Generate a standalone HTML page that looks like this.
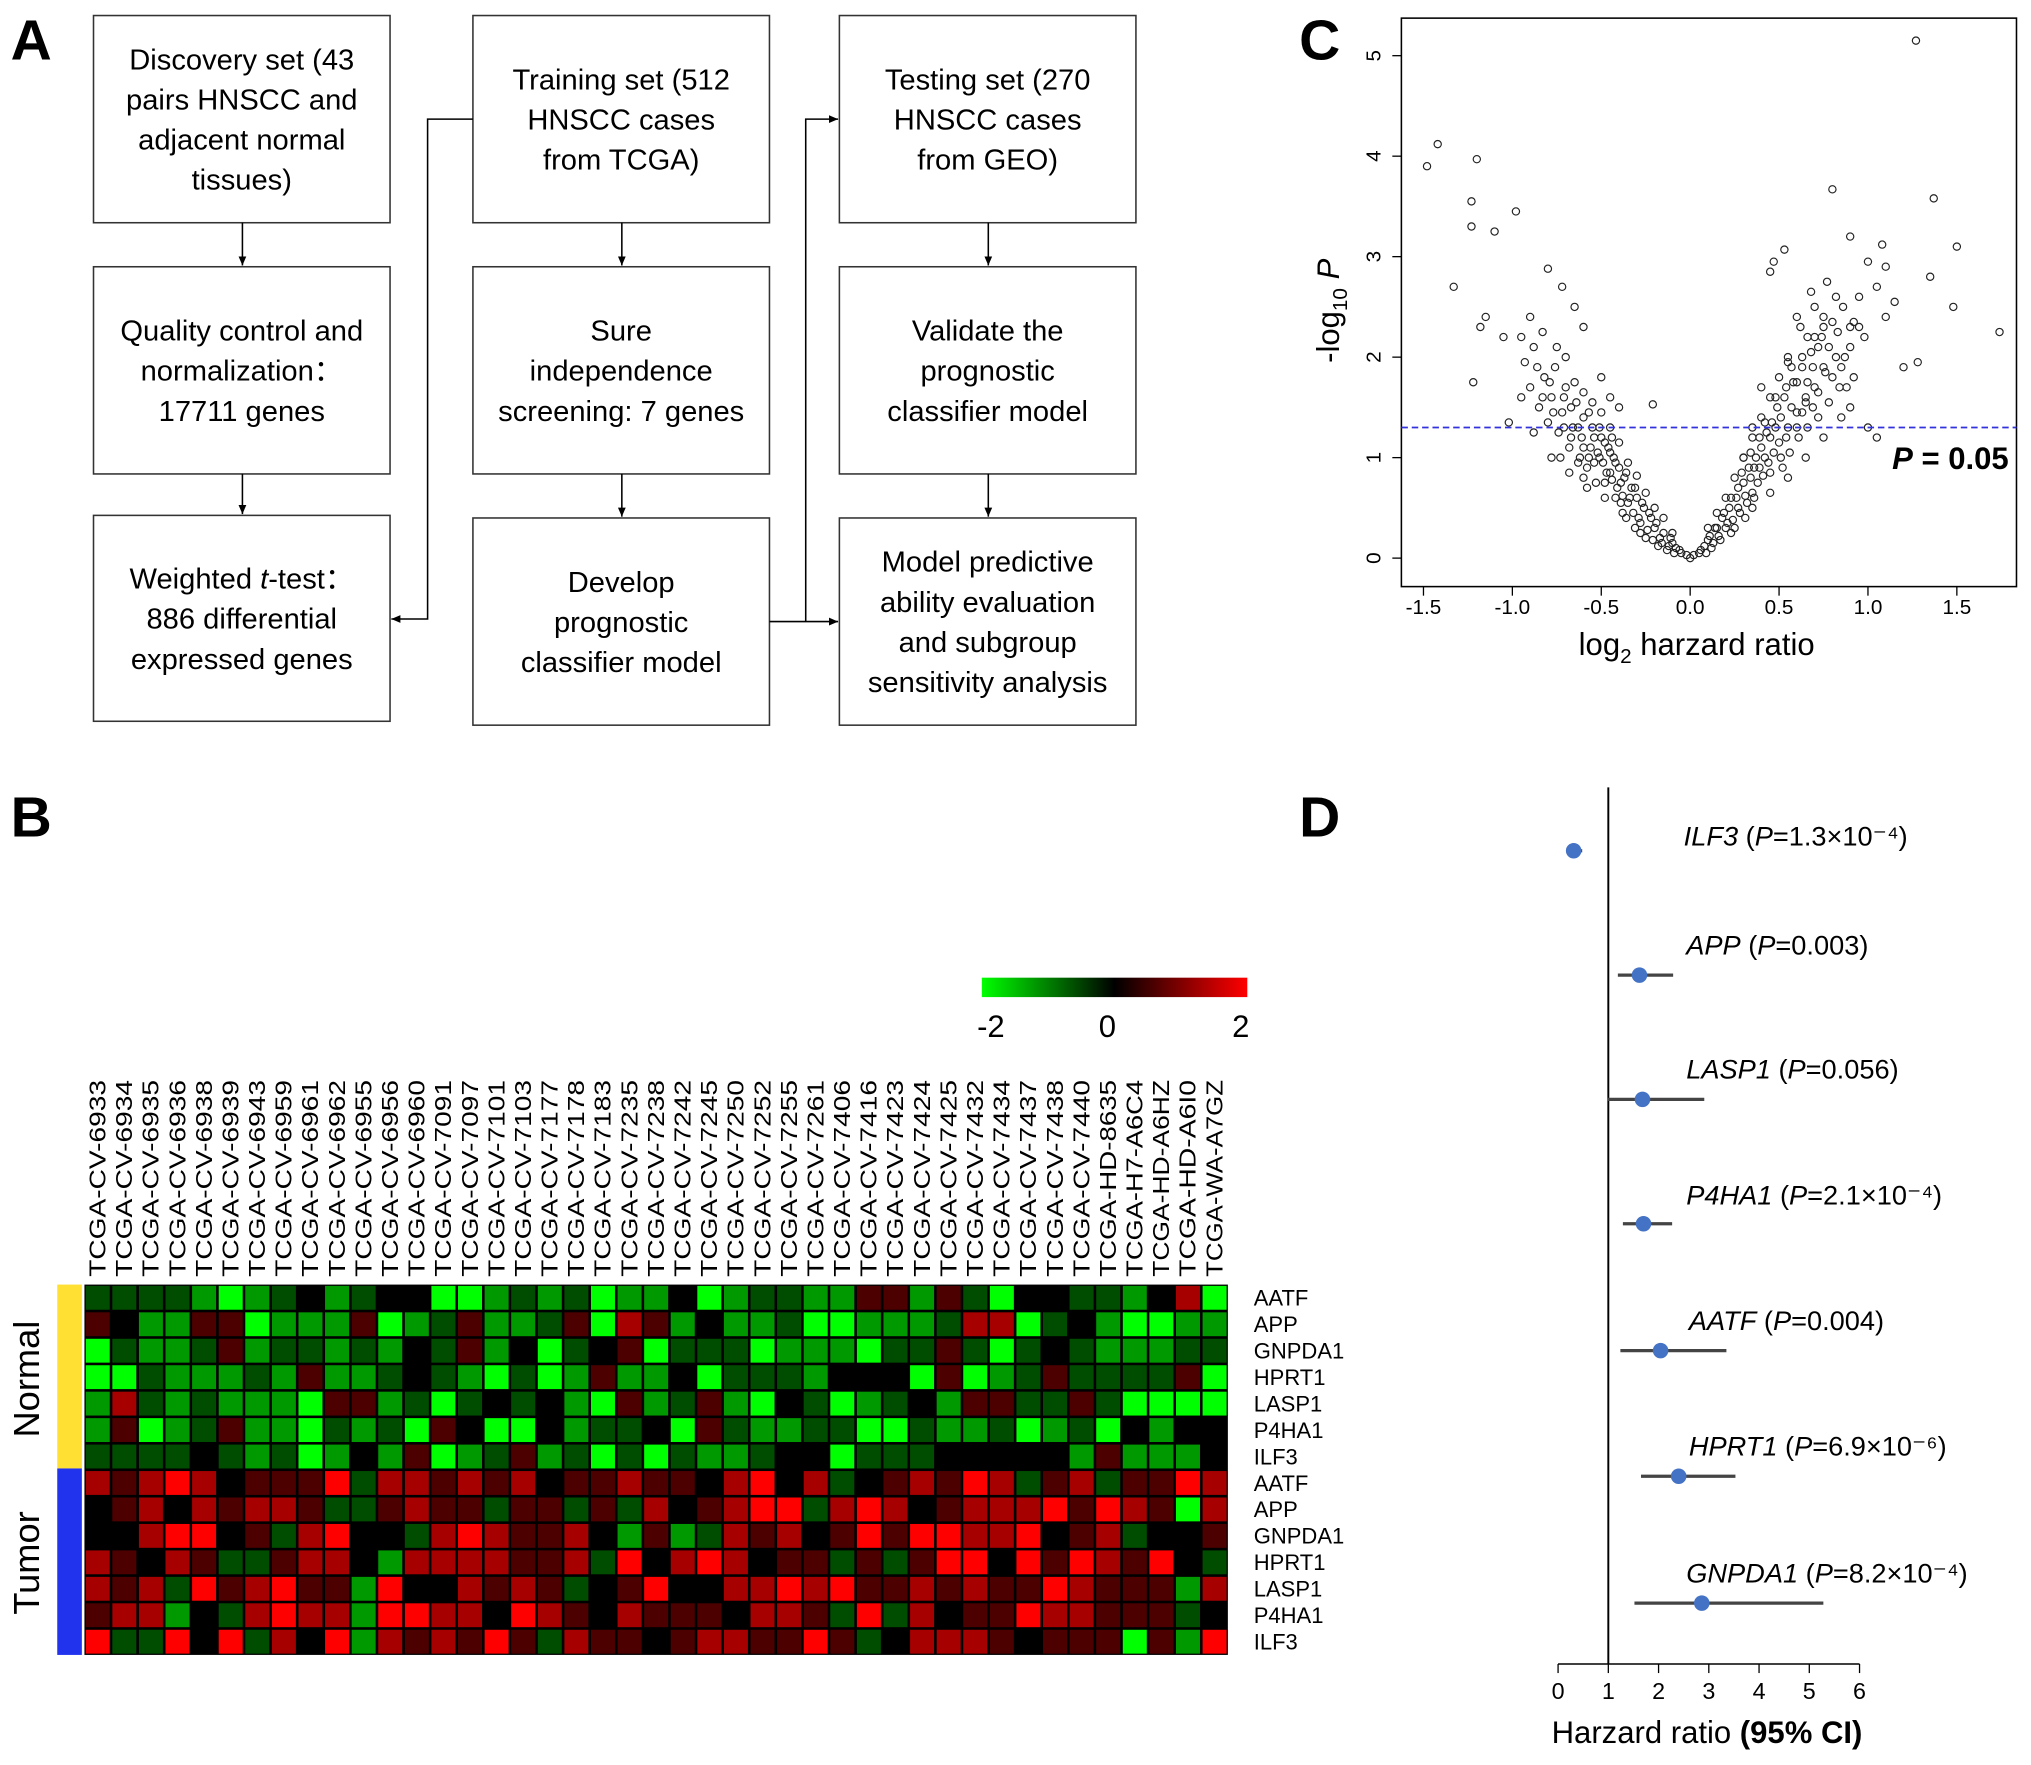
<!DOCTYPE html>
<html><head><meta charset="utf-8"><style>
html,body{margin:0;padding:0;background:#fff;}
svg{display:block;font-family:"Liberation Sans",Arial,sans-serif;}
</style></head><body>
<svg id="fig" width="2031" height="1765" viewBox="0 0 1568 1363" xmlns="http://www.w3.org/2000/svg">
<defs>
<marker id="ah" markerWidth="8" markerHeight="8" refX="7" refY="4" orient="auto" markerUnits="userSpaceOnUse"><path d="M0,1 L7,4 L0,7 z" fill="#000"/></marker>
<linearGradient id="cbar" x1="0" x2="1" y1="0" y2="0"><stop offset="0" stop-color="#00ff00"/><stop offset="0.5" stop-color="#000"/><stop offset="1" stop-color="#ff0000"/></linearGradient>
</defs>
<g font-weight="bold" font-size="44">
<text x="8" y="46">A</text>
<text x="8" y="646">B</text>
<text x="1003" y="46">C</text>
<text x="1003" y="646">D</text>
</g>
<g id="flow" font-size="22.5" text-anchor="middle" fill="#000"></g>
<g id="volcano"></g>
<g id="heat"></g>
<g id="forest"></g>
</svg>
<script>
// ---------- Volcano data ----------
const volcanoX = [1.27,-1.42,-1.48,-1.2,-1.23,-1.23,-1.1,-0.98,-1.33,-0.8,-0.72,-0.65,-1.22,-1.15,-1.18,-1.05,-0.9,-0.83,-0.7,-0.6,-0.5,-0.45,-0.4,-0.21,-1.02,-0.95,
0.8,1.37,1.5,1.74,1.48,1.35,1.08,1.1,1.0,0.9,0.53,0.47,0.45,0.68,1.2,1.28,0.6,0.95,0.75,0.55,0.7,0.85,0.88,0.9,1.0,1.05,0.65,0.4,0.35,0.3,
-0.05,-0.08,-0.1,-0.12,-0.15,-0.17,-0.2,-0.22,-0.24,-0.26,-0.28,-0.3,-0.32,-0.33,-0.35,-0.37,-0.38,-0.4,-0.41,-0.43,-0.44,-0.46,-0.47,-0.49,-0.5,-0.52,-0.53,-0.55,-0.56,-0.58,-0.6,-0.61,-0.62,-0.64,-0.66,-0.68,-0.7,-0.72,-0.74,-0.76,-0.78,-0.8,-0.82,-0.85,-0.88,-0.9,-0.93,-0.95,-0.55,-0.45,-0.35,-0.25,-0.15,-0.65,-0.75,-0.4,-0.3,-0.2,-0.1,-0.58,-0.48,-0.38,-0.28,-0.18,-0.68,-0.78,-0.88,
0.05,0.08,0.1,0.12,0.14,0.16,0.18,0.2,0.22,0.24,0.26,0.28,0.3,0.32,0.33,0.35,0.37,0.38,0.4,0.41,0.43,0.44,0.46,0.47,0.49,0.5,0.52,0.53,0.55,0.56,0.58,0.6,0.61,0.63,0.65,0.66,0.68,0.7,0.72,0.74,0.76,0.78,0.8,0.82,0.84,0.86,0.9,0.92,0.95,0.98,0.62,0.55,0.45,0.35,0.25,0.15,0.7,0.5,0.4,0.3,0.2,0.1,0.55,0.45,0.35,0.25,0.65,0.75,0.85,1.1,1.05,0.77,0.82,0.92,1.15,0.0,0.02,-0.02];
const volcanoY = [5.15,4.12,3.9,3.97,3.55,3.3,3.25,3.45,2.7,2.88,2.7,2.5,1.75,2.4,2.3,2.2,2.4,2.25,2.0,2.3,1.8,1.6,1.5,1.53,1.35,1.6,
3.67,3.58,3.1,2.25,2.5,2.8,3.12,2.9,2.95,3.2,3.07,2.95,2.85,2.65,1.9,1.95,2.4,2.3,2.4,2.0,2.2,1.9,1.7,1.5,1.3,1.2,1.6,1.7,1.3,1.0,
0.05,0.1,0.15,0.12,0.25,0.2,0.3,0.4,0.28,0.5,0.35,0.6,0.45,0.7,0.55,0.8,0.62,0.9,0.7,1.0,0.78,1.1,0.85,0.95,1.2,1.05,0.75,1.3,1.1,0.9,1.4,1.2,1.0,1.55,1.3,1.1,1.7,1.45,1.25,1.9,1.6,1.35,1.8,1.5,2.1,1.7,1.95,2.2,1.55,1.3,0.95,0.65,0.4,1.75,2.1,1.15,0.82,0.5,0.25,0.7,0.6,0.45,0.25,0.12,0.85,1.0,1.25,
0.05,0.12,0.18,0.1,0.3,0.22,0.4,0.3,0.5,0.38,0.6,0.45,0.75,0.55,0.9,0.65,1.0,0.75,1.1,0.82,1.25,0.95,1.35,1.05,1.5,1.15,0.9,1.6,1.3,1.05,1.75,1.45,1.2,1.9,1.55,1.3,2.05,1.7,1.4,2.2,1.85,1.55,2.35,2.0,1.7,2.5,2.1,1.8,2.6,2.2,2.3,1.95,1.6,1.2,0.8,0.45,2.5,1.8,1.4,1.0,0.6,0.3,0.8,0.65,0.5,0.3,1.0,1.2,1.4,2.4,2.7,2.75,2.6,2.35,2.55,0.0,0.03,0.03];
const volcanoXExtra = [-0.06,-0.09,-0.11,-0.13,-0.16,-0.19,-0.21,-0.23,-0.25,-0.27,-0.29,-0.31,-0.31,-0.34,-0.36,-0.36,-0.39,-0.39,-0.42,-0.42,-0.45,-0.45,-0.48,-0.48,-0.51,-0.51,-0.54,-0.54,-0.57,-0.57,-0.6,-0.6,-0.63,-0.63,-0.67,-0.67,-0.71,-0.71,-0.73,-0.77,-0.79,-0.83,-0.86,-0.6,-0.5,-0.44,
0.06,0.09,0.11,0.13,0.15,0.17,0.19,0.21,0.23,0.23,0.27,0.27,0.29,0.31,0.31,0.34,0.34,0.36,0.36,0.39,0.39,0.42,0.42,0.45,0.45,0.48,0.48,0.51,0.51,0.54,0.54,0.57,0.57,0.6,0.6,0.63,0.63,0.66,0.66,0.69,0.69,0.72,0.72,0.75,0.75,0.78,0.8,0.83,0.87,0.9];
const volcanoYExtra = [0.08,0.05,0.2,0.08,0.15,0.35,0.18,0.45,0.2,0.55,0.4,0.3,0.7,0.6,0.4,0.85,0.75,0.55,0.95,0.6,0.85,1.05,1.15,0.75,1.0,1.3,0.95,1.2,1.45,1.0,1.1,0.8,1.3,0.95,1.5,1.2,1.3,1.6,1.0,1.45,1.75,1.6,1.9,1.65,1.45,1.2,
0.08,0.05,0.22,0.15,0.3,0.18,0.45,0.35,0.6,0.25,0.7,0.5,0.85,0.62,0.4,0.8,1.05,0.9,0.6,1.2,0.9,1.0,1.35,1.2,0.85,1.3,1.6,1.4,1.0,1.7,1.2,1.5,1.9,1.3,1.75,2.0,1.45,1.75,2.2,1.9,1.5,2.1,1.65,2.3,1.9,2.1,1.8,2.25,2.0,2.3];
const volcanoXTicks = [-1.5,-1.0,-0.5,0.0,0.5,1.0,1.5];
const volcanoYTicks = [0,1,2,3,4,5];
const pThreshold = 1.3;

// ---------- Heatmap data ----------
const samples = ["TCGA-CV-6933","TCGA-CV-6934","TCGA-CV-6935","TCGA-CV-6936","TCGA-CV-6938","TCGA-CV-6939","TCGA-CV-6943","TCGA-CV-6959","TCGA-CV-6961","TCGA-CV-6962","TCGA-CV-6955","TCGA-CV-6956","TCGA-CV-6960","TCGA-CV-7091","TCGA-CV-7097","TCGA-CV-7101","TCGA-CV-7103","TCGA-CV-7177","TCGA-CV-7178","TCGA-CV-7183","TCGA-CV-7235","TCGA-CV-7238","TCGA-CV-7242","TCGA-CV-7245","TCGA-CV-7250","TCGA-CV-7252","TCGA-CV-7255","TCGA-CV-7261","TCGA-CV-7406","TCGA-CV-7416","TCGA-CV-7423","TCGA-CV-7424","TCGA-CV-7425","TCGA-CV-7432","TCGA-CV-7434","TCGA-CV-7437","TCGA-CV-7438","TCGA-CV-7440","TCGA-HD-8635","TCGA-H7-A6C4","TCGA-HD-A6HZ","TCGA-HD-A6I0","TCGA-WA-A7GZ"];
const genes = ["AATF","APP","GNPDA1","HPRT1","LASP1","P4HA1","ILF3","AATF","APP","GNPDA1","HPRT1","LASP1","P4HA1","ILF3"];
// level codes: G=-2, g=-1.2, d=-0.6, k=0, r=0.6, R=1.3, X=2
const heatRows = [
"ddddgGgdkgdkkGGgdgdGg"+"gkGgddggrrgrdGkkddgkRG",
"rkggrrGgggrGgdrggdrGR"+"rgkggdGGgggdRRGdkgGGgg",
"GdggdrgddgdgkdrgkGdkr"+"GdddGgggGddrdGdkdgggdd",
"GGdgggdgrggdkdgGdGgrg"+"gkGdddgkkkGrGgdrddddrG",
"gRdgdgggGrrgdGdkdkgGr"+"gdrgGkdGgdkgrrddrdGGGG",
"grGgdrggGdgdGrkGGkgdd"+"kGrdggddGGdggdGgdGkgkk",
"ddddkdgdGgkgrGgdrgdGd"+"GdggdkkGdddkkkkkgrgggk",
"RrRXRkrrrXdRRrRrRkrrR"+"rrkRXkRdkrRrXRdrRdrrXR",
"krRkRrRRrddrRrrdrrdrd"+"RkrRXXdRXRkrRRRXrXRrGR",
"kkRXXkrdRXkkdRXRrrRkg"+"rgdRrRkrXrXXRRXkrRdkkr",
"RrkRrddrRRkgRRRRrrRdX"+"kRXRkrrdrdrXXkXrXRrXkd",
"RrRdXrRXrrgXkkRrRrdkr"+"XkkRRXRXrrRrRrrXRrrrgR",
"rRRgkdRXRRgXXRRkXRrkR"+"rrrkRRrdXdRkrrXRRrrrdk",
"XddXkXdRkXgRrRrXrdRrr"+"krRRrrXrdkRRRrkrrrGrgX"];
const levelValue = {G:-2,g:-1.2,d:-0.6,k:0,r:0.6,R:1.3,X:2};

// ---------- Forest data ----------
const forestGenes = ["ILF3","APP","LASP1","P4HA1","AATF","HPRT1","GNPDA1"];
const forestP = ["1.3×10⁻⁴","0.003","0.056","2.1×10⁻⁴","0.004","6.9×10⁻⁶","8.2×10⁻⁴"];
const forestHR = [0.31,1.62,1.68,1.70,2.04,2.40,2.86];
const forestLow = [0.22,1.19,0.98,1.29,1.24,1.65,1.52];
const forestHigh = [0.48,2.29,2.91,2.27,3.35,3.53,5.28];
const forestTicks = [0,1,2,3,4,5,6];
</script>
<script>
const NS="http://www.w3.org/2000/svg";
function mk(parent,tag,attrs,txt){const e=document.createElementNS(NS,tag);for(const k in attrs)e.setAttribute(k,attrs[k]);if(txt!==undefined)e.textContent=txt;parent.appendChild(e);return e;}

// ---------- Flowchart ----------
const flow=document.getElementById('flow');
const boxes=[
 {x:72,y:12,w:229,h:160,t:["Discovery set (43","pairs HNSCC and","adjacent normal","tissues)"],n:"discovery-set-box"},
 {x:365,y:12,w:229,h:160,t:["Training set (512","HNSCC cases","from TCGA)"],n:"training-set-box"},
 {x:648,y:12,w:229,h:160,t:["Testing set (270","HNSCC cases","from GEO)"],n:"testing-set-box"},
 {x:72,y:206,w:229,h:160,t:["Quality control and","normalization：","17711 genes"],n:"quality-control-box"},
 {x:365,y:206,w:229,h:160,t:["Sure","independence","screening: 7 genes"],n:"sis-box"},
 {x:648,y:206,w:229,h:160,t:["Validate the","prognostic","classifier model"],n:"validate-box"},
 {x:72,y:398,w:229,h:159,t:["Weighted t-test：","886 differential","expressed genes"],n:"weighted-ttest-box"},
 {x:365,y:400,w:229,h:160,t:["Develop","prognostic","classifier model"],n:"develop-model-box"},
 {x:648,y:400,w:229,h:160,t:["Model predictive","ability evaluation","and subgroup","sensitivity analysis"],n:"evaluation-box"}];
boxes.forEach(b=>{
 const g=mk(flow,'g',{});
 
 
 mk(g,'rect',{x:b.x,y:b.y,width:b.w,height:b.h,fill:'#fff',stroke:'#333','stroke-width':1.2});
 const lh=31, n=b.t.length, cy=b.y+b.h/2, y0=cy-(n-1)*lh/2+8;
 b.t.forEach((line,i)=>{
   const t=mk(g,'text',{x:b.x+b.w/2,y:y0+i*lh});
   if(line.startsWith("Weighted t-test")){
     t.appendChild(document.createTextNode("Weighted "));
     mk(t,'tspan',{'font-style':'italic'},"t");
     t.appendChild(document.createTextNode("-test："));
   } else t.textContent=line;
 });
});
const arrows=[[187,172,187,205],[187,366,187,397],[480,172,480,205],[480,366,480,399],[763,172,763,205],[763,366,763,399]];
arrows.forEach(a=>{const l=mk(flow,'line',{x1:a[0],y1:a[1],x2:a[2],y2:a[3],stroke:'#000','stroke-width':1.2,'marker-end':'url(#ah)'});
 
 });
const p1=mk(flow,'polyline',{points:"365,92 330,92 330,478 302,478",fill:'none',stroke:'#000','stroke-width':1.2,'marker-end':'url(#ah)'});


const p2=mk(flow,'polyline',{points:"594,480 647,480",fill:'none',stroke:'#000','stroke-width':1.2,'marker-end':'url(#ah)'});


const p3=mk(flow,'polyline',{points:"622,480 622,92 647,92",fill:'none',stroke:'#000','stroke-width':1.2,'marker-end':'url(#ah)'});



// ---------- Volcano ----------
const vol=document.getElementById('volcano');
const vx=v=>1305+137.3*v, vy=v=>431-77.6*v;
mk(vol,'rect',{x:1082,y:14,width:475,height:439,fill:'none',stroke:'#000','stroke-width':1.2});
volcanoXTicks.forEach(t=>{mk(vol,'line',{x1:vx(t),x2:vx(t),y1:453,y2:460,stroke:'#000'});
 const tx=mk(vol,'text',{x:vx(t),y:474,'font-size':16,'text-anchor':'middle'},t.toFixed(1));
 
 });
volcanoYTicks.forEach(t=>{mk(vol,'line',{x1:1075,x2:1082,y1:vy(t),y2:vy(t),stroke:'#000'});
 const tx=mk(vol,'text',{x:1066,y:vy(t),'font-size':16,'text-anchor':'middle',transform:`rotate(-90 1066 ${vy(t)})`},String(t));
 
 });
const xl=mk(vol,'text',{x:1310,y:506,'font-size':24,'text-anchor':'middle'});
xl.innerHTML='log<tspan font-size="16" dy="6">2</tspan><tspan dy="-6"> harzard ratio</tspan>';


const yl=mk(vol,'text',{x:1034,y:240,'font-size':24,'text-anchor':'middle',transform:'rotate(-90 1034 240)'});
yl.innerHTML='-log<tspan font-size="16" dy="6">10</tspan><tspan dy="-6" font-style="italic"> P</tspan>';


const allX=volcanoX.concat(volcanoXExtra), allY=volcanoY.concat(volcanoYExtra);
allX.forEach((x,i)=>{const c=mk(vol,'circle',{cx:vx(x),cy:vy(allY[i]),r:2.8,fill:'none',stroke:'#222','stroke-width':0.9});
 
 });
const th=mk(vol,'line',{x1:1082,x2:1557,y1:vy(pThreshold),y2:vy(pThreshold),stroke:'#3333dd','stroke-width':1.3,'stroke-dasharray':'5,3'});


const pt=mk(vol,'text',{x:1551,y:362,'font-size':24,'font-weight':'bold','text-anchor':'end'});
pt.innerHTML='<tspan font-style="italic">P</tspan> = 0.05';



// ---------- Heatmap ----------
const heat=document.getElementById('heat');
const hx0=65,hy0=992,cw=(948-65)/43,ch=(1278-992)/14;
mk(heat,'rect',{x:hx0,y:hy0,width:883,height:286,fill:'#000'});
function col(v){const a=Math.round(Math.min(1,Math.abs(v)/2)*255);return v<0?`rgb(0,${a},0)`:`rgb(${a},0,0)`;}
heatRows.forEach((row,r)=>{
 for(let c=0;c<samples.length;c++){
   const v=levelValue[row[c]]??0;
   const rc=mk(heat,'rect',{x:hx0+c*cw+1,y:hy0+r*ch+1,width:cw-2,height:ch-2,fill:col(v)});
   
   
 }
 const gl=mk(heat,'text',{x:968,y:hy0+r*ch+ch/2+6,'font-size':17},genes[r]);
 
 
});
samples.forEach((s,c)=>{const x=hx0+c*cw+cw/2+6;
 const t=mk(heat,'text',{x:x,y:986,'font-size':18,textLength:152,lengthAdjust:'spacingAndGlyphs',transform:`rotate(-90 ${x} 986)`},s);
 
 });
const yb=mk(heat,'rect',{x:44,y:992,width:19,height:142,fill:'#ffe033'});


const bb=mk(heat,'rect',{x:44,y:1134,width:19,height:144,fill:'#2233ee'});


const nl=mk(heat,'text',{x:30,y:1065,'font-size':28,'text-anchor':'middle',transform:'rotate(-90 30 1065)'},'Normal');


const tl=mk(heat,'text',{x:30,y:1207,'font-size':28,'text-anchor':'middle',transform:'rotate(-90 30 1207)'},'Tumor');


const cb=mk(heat,'rect',{x:758,y:755,width:205,height:15,fill:'url(#cbar)'});


[["-2",765],["0",855],["2",958]].forEach(l=>{const t=mk(heat,'text',{x:l[1],y:801,'font-size':24,'text-anchor':'middle'},l[0]);
 
 });

// ---------- Forest ----------
const fr=document.getElementById('forest');
const fx=v=>1203+38.8*v;
const rowY=[657,753,849,945,1043,1140,1238];
const labY=[653,737,833,930,1027,1124,1222];
const labX=[1300,1302,1302,1302,1304,1304,1302];
mk(fr,'line',{x1:fx(1),x2:fx(1),y1:608,y2:1285,stroke:'#000','stroke-width':1.5});
mk(fr,'line',{x1:fx(0),x2:fx(6),y1:1285,y2:1285,stroke:'#000','stroke-width':1.2});
forestTicks.forEach(t=>{mk(fr,'line',{x1:fx(t),x2:fx(t),y1:1285,y2:1292,stroke:'#000'});
 const tx=mk(fr,'text',{x:fx(t),y:1312,'font-size':18,'text-anchor':'middle'},String(t));
 
 });
const fl=mk(fr,'text',{x:1318,y:1346,'font-size':24,'text-anchor':'middle'});
fl.innerHTML='Harzard ratio <tspan font-weight="bold">(95% CI)</tspan>';


forestGenes.forEach((g,i)=>{
 const ci=mk(fr,'line',{x1:fx(forestLow[i]),x2:fx(forestHigh[i]),y1:rowY[i],y2:rowY[i],stroke:'#444','stroke-width':2.5});
 
 
 const d=mk(fr,'circle',{cx:fx(forestHR[i]),cy:rowY[i],r:6,fill:'#4472c4'});
 
 
 const t=mk(fr,'text',{x:labX[i],y:labY[i],'font-size':21});
 t.innerHTML=`<tspan font-style="italic">${g}</tspan> (<tspan font-style="italic">P</tspan>=${forestP[i]})`;
 
 
});
</script>
</body></html>
